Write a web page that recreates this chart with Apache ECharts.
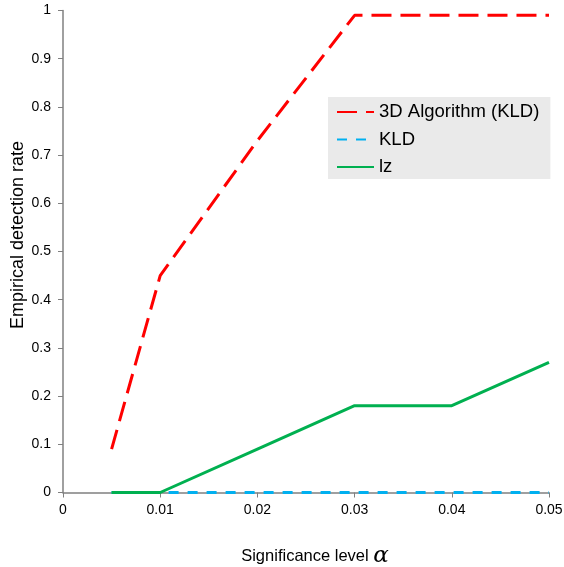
<!DOCTYPE html>
<html>
<head>
<meta charset="utf-8">
<script src="https://cdn.jsdelivr.net/npm/echarts@6/dist/echarts.min.js"></script>
<style>
  html, body { margin: 0; padding: 0; background: #fff; }
  #chart { width: 564px; height: 567px; }
</style>
</head>
<body>
<div id="chart"></div>
<script>
// Significance levels on the x axis
const alphaLevels = [0.005, 0.01, 0.02, 0.03, 0.04, 0.05];
// Empirical detection rates per method
const algo3dKld = [0.09, 0.45, 0.73, 0.99, 0.99, 0.99];
const kld = [0, 0, 0, 0, 0, 0];
const lz = [0, 0, 0.09, 0.18, 0.18, 0.27];
const seriesNames = ['3D Algorithm (KLD)', 'KLD', 'lz'];

const pairs = ys => alphaLevels.map((x, i) => [x, ys[i]]);
const font = 'Liberation Sans, Arial, sans-serif';

const chart = echarts.init(document.getElementById('chart'), null, { renderer: 'canvas' });
chart.setOption({
  animation: false,
  backgroundColor: '#ffffff',
  grid: { left: 63, right: 15, top: 10.5, bottom: 74.5, outerBoundsMode: 'none', containLabel: false },
  legend: {
    orient: 'vertical',
    left: 328,
    top: 97,
    data: seriesNames,
    backgroundColor: '#EAEAEA',
    padding: [5, 11, 2, 8],
    itemWidth: 37,
    itemHeight: 20,
    itemGap: 7.5,
    itemStyle: { opacity: 0 },
    textStyle: { fontFamily: font, fontSize: 18.5, lineHeight: 20, color: '#000' }
  },
  xAxis: {
    type: 'value',
    min: 0, max: 0.05, interval: 0.01,
    axisLine: { lineStyle: { color: '#808080', width: 1.5 } },
    axisTick: { show: true, length: 5, lineStyle: { color: '#808080' } },
    splitLine: { show: false },
    axisLabel: { fontFamily: font, fontSize: 14, color: '#000', margin: 11 },
    name: '{t|Significance level }{a|α}',
    nameLocation: 'middle',
    nameGap: 52,
    nameMoveOverlap: false,
    nameTextStyle: {
      padding: [0, 0, 0, 18],
      rich: {
        t: { fontFamily: font, fontSize: 16.5, color: '#000' },
        a: { fontFamily: 'DejaVu Serif', fontStyle: 'italic', fontSize: 23, color: '#000' }
      }
    }
  },
  yAxis: {
    type: 'value',
    min: 0, max: 1, interval: 0.1,
    axisLine: { show: true, lineStyle: { color: '#808080', width: 1.5 } },
    axisTick: { show: true, length: 5, lineStyle: { color: '#808080' } },
    splitLine: { show: false },
    axisLabel: { fontFamily: font, fontSize: 14, color: '#000', margin: 12,
      formatter: v => String(Math.round(v * 10) / 10) },
    name: 'Empirical detection rate',
    nameLocation: 'middle',
    nameGap: 36,
    nameMoveOverlap: false,
    nameTextStyle: { fontFamily: font, fontSize: 18, color: '#000', padding: [0, 0, 0, 33] }
  },
  series: [
    {
      name: seriesNames[0], type: 'line', data: pairs(algo3dKld), symbol: 'none', z: 3,
      lineStyle: { color: '#FF0000', width: 3, type: [20, 9] },
      itemStyle: { color: '#FF0000' }
    },
    {
      name: seriesNames[1], type: 'line', data: pairs(kld), symbol: 'none', z: 2,
      lineStyle: { color: '#00B0F0', width: 3, type: [10, 9] },
      itemStyle: { color: '#00B0F0' }
    },
    {
      name: seriesNames[2], type: 'line', data: pairs(lz), symbol: 'none', z: 4,
      lineStyle: { color: '#00B050', width: 3, type: 'solid' },
      itemStyle: { color: '#00B050' }
    }
  ]
});
</script>
</body>
</html>
